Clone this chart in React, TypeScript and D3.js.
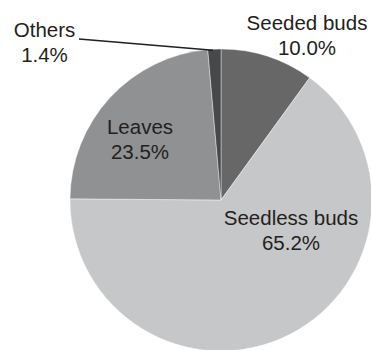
import React from "react";
import * as d3 from "d3";

const categories = ["Seeded buds", "Seedless buds", "Leaves", "Others"];
const values = [10.0, 65.2, 23.5, 1.4];
const labels = ["10.0%", "65.2%", "23.5%", "1.4%"];
const colors = ["#676767", "#c6c7c8", "#909193", "#47484a"];

const W = 371;
const H = 350;
const cx = 221;
const cy = 200;
const R = 151;

// label anchor positions (center x, baseline of first line)
const labelPos: [number, number][] = [
  [307, 30],
  [291, 225],
  [140, 134],
  [44.5, 37],
];

export default function App() {
  const total = d3.sum(values);
  const pie = d3
    .pie<number>()
    .sort(null)
    .value((d) => d)
    .startAngle(0)
    .endAngle((2 * Math.PI * total) / 100);
  const arcs = pie(values);
  const arc = d3.arc<d3.PieArcDatum<number>>().innerRadius(0).outerRadius(R);
  const othersArc = arcs[3];
  const midA = (othersArc.startAngle + othersArc.endAngle) / 2 - 0.01;
  const lx = cx + Math.sin(midA) * (R - 1);
  const ly = cy - Math.cos(midA) * (R - 1);
  return (
    <svg
      width={W}
      height={H}
      style={{ position: "absolute", left: 0, top: 0 }}
      fontFamily="'Liberation Sans', Arial, sans-serif"
    >
      <g transform={`translate(${cx},${cy})`}>
        {arcs.map((a, i) => (
          <path key={i} d={arc(a) || ""} fill={colors[i]} stroke="#ffffff" strokeWidth={0.4} />
        ))}
      </g>
      <line x1={79} y1={39} x2={lx} y2={ly} stroke="#231f20" strokeWidth={1.6} />
      {categories.map((c, i) => (
        <text key={c} x={labelPos[i][0]} y={labelPos[i][1]} textAnchor="middle" fontSize={20.5} fill="#231f20">
          <tspan x={labelPos[i][0]}>{c}</tspan>
          <tspan x={labelPos[i][0]} dy={24.5}>{labels[i]}</tspan>
        </text>
      ))}
    </svg>
  );
}
